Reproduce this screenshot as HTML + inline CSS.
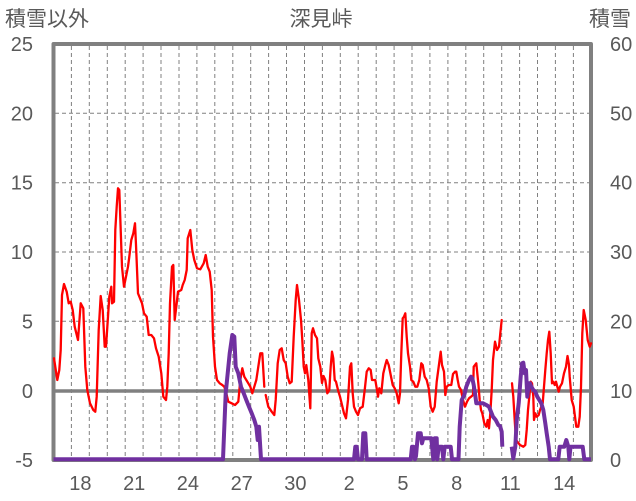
<!DOCTYPE html>
<html><head><meta charset="utf-8"><style>
html,body{margin:0;padding:0;background:#fff;}
svg{display:block;}
text{font-family:"Liberation Sans","Noto Sans CJK JP",sans-serif;fill:#595959;}
</style></head><body>
<svg width="636" height="501" viewBox="0 0 636 501" xmlns="http://www.w3.org/2000/svg">
<rect width="636" height="501" fill="#fff"/>
<g stroke="#808080" stroke-width="1" stroke-dasharray="4,3" fill="none">
<line x1="71.4" y1="46" x2="71.4" y2="458"/><line x1="89.3" y1="46" x2="89.3" y2="458"/><line x1="107.3" y1="46" x2="107.3" y2="458"/><line x1="125.2" y1="46" x2="125.2" y2="458"/><line x1="143.1" y1="46" x2="143.1" y2="458"/><line x1="161.0" y1="46" x2="161.0" y2="458"/><line x1="179.0" y1="46" x2="179.0" y2="458"/><line x1="196.9" y1="46" x2="196.9" y2="458"/><line x1="214.8" y1="46" x2="214.8" y2="458"/><line x1="232.8" y1="46" x2="232.8" y2="458"/><line x1="250.7" y1="46" x2="250.7" y2="458"/><line x1="268.6" y1="46" x2="268.6" y2="458"/><line x1="286.5" y1="46" x2="286.5" y2="458"/><line x1="304.5" y1="46" x2="304.5" y2="458"/><line x1="322.4" y1="46" x2="322.4" y2="458"/><line x1="340.3" y1="46" x2="340.3" y2="458"/><line x1="358.2" y1="46" x2="358.2" y2="458"/><line x1="376.2" y1="46" x2="376.2" y2="458"/><line x1="394.1" y1="46" x2="394.1" y2="458"/><line x1="412.0" y1="46" x2="412.0" y2="458"/><line x1="429.9" y1="46" x2="429.9" y2="458"/><line x1="447.9" y1="46" x2="447.9" y2="458"/><line x1="465.8" y1="46" x2="465.8" y2="458"/><line x1="483.7" y1="46" x2="483.7" y2="458"/><line x1="501.7" y1="46" x2="501.7" y2="458"/><line x1="519.6" y1="46" x2="519.6" y2="458"/><line x1="537.5" y1="46" x2="537.5" y2="458"/><line x1="555.4" y1="46" x2="555.4" y2="458"/><line x1="573.4" y1="46" x2="573.4" y2="458"/>
<line x1="55" y1="113.3" x2="590" y2="113.3"/><line x1="55" y1="182.7" x2="590" y2="182.7"/><line x1="55" y1="252" x2="590" y2="252"/><line x1="55" y1="321.3" x2="590" y2="321.3"/>
</g>
<rect x="53.5" y="44" width="537.5" height="416" fill="none" stroke="#808080" stroke-width="4" stroke-linejoin="round"/>
<line x1="53.5" y1="391" x2="591" y2="391" stroke="#808080" stroke-width="3.5"/>
<g fill="none" stroke="#ff0000" stroke-width="2.3" stroke-linejoin="round" stroke-linecap="round">
<polyline points="54,358.3 57.3,380 59.3,370 60.7,350 62,295 64,284 66.7,291.7 68.7,303.3 70.7,301.7 72.7,310 74.7,326.7 78,340 80.7,303.3 83.3,308.3 85.3,366.7 87.3,390 90,403.3 93.3,410 95.3,411.7 96.7,396.7 98.7,330 100.7,296 102.7,310 104.7,346.7 106,346.7 108,316.7 109.3,296.7 111.3,286.7 112,303.3 114,301.7 115.3,230 116.7,206.7 118,188.3 119.3,190 120.7,230 122,266.7 124,286.7 126,276.7 128,266.7 129.3,256.7 131.3,240 133.3,233.3 135,223.3 136,245 138,293.3 140,298.3 142,303.3 144,313.3 146.7,316.7 148.7,335 151.3,335 154,338.3 156,348.3 158.7,356.7 161.3,373.3 163.3,396.7 166,400 167.3,386.7 168.7,353.3 170,303.3 172,266.7 173.3,265 174.7,320 176.7,303.3 178,291.7 181.3,290 182.7,285 184.7,280 186.7,270 187.7,238.3 190.3,230 192.3,250 194.3,260 197,268.3 200.3,269.3 203.7,263.3 205.7,255 207.7,266.7 209.7,271.7 211.7,290 213,336.7 215,366.7 217,380 219.7,383.3 222.3,385 224.3,386.7 226.3,393.3 228.3,401.7 231.7,403.3 235,405 238.3,401.7 240.3,380 242.3,368.3 244.3,376.7 246.3,380 248.3,383.3 250.3,386.7 252.3,393.3 254.3,386.7 256.3,380 258.3,366.7 260.3,353.3 262.3,353.3 264.3,386.7"/>
<polyline points="265.7,395 268.3,406.7 271.7,411.7 274.3,415 275.7,400 277.7,363.3 279.7,350 281.7,348.3 283.7,360 285.7,363.3 287.7,376.7 289.7,383.3 291.7,381.7 293.7,336.7 295.7,300 297,285 299,300 301,320 302.3,340 303.7,366.7 305,373.3 306.3,365 308.3,380 310.3,408.3 311.7,333.3 313,328.3 315,335 317,338.3 318.3,358.3 320.3,366.7 322,383 323.5,376 325.3,380 327.3,393.3 329.3,390 330.7,366.7 332,351.7 333.3,358.3 334.7,380 336,381.7 338,390 340,396.7 342,405 344,413.3 346,418.3 348,400 350,366.7 351.3,363.3 352.7,393.3 354,406.7 356,411.7 358,415 360,408.3 362.7,406.7 364.7,390 366.7,371.7 368.7,368.3 370.7,370 372,380 375.3,380 376.7,388.3 378,396.7 379.3,388.3 381.3,393.3 383.3,373.3 385.3,365 386.7,360 388.7,365 390.7,375 392.7,385 394.7,388.3 396.7,393.3 398.7,403.3 400,393.3 401.3,353.3 402.7,318.3 404,316.7 405.3,313.3 406.7,336.7 408,353.3 410,366.7 411.3,380 413.3,381.7 415.3,386.7 417.3,386.7 419.3,380 421.3,363.3 422.7,365 424.7,376.7 426.7,380 428.7,388.3 430.7,406.7 432.7,411.7 434.7,406.7 436.7,381.7 438.7,366.7 440.7,351.7 442,365 444,371.7 445.3,395 446.7,386.7 448.7,385 451.3,385 453,374 455,371.7 456.3,371.7 457.7,380 459,386.7 461,390 463,400 465,406.7 467,401.7 469,398.3 471,396.7 473,395 473.7,366.7 476.3,363.3 478.3,383.3 479.7,400 481,410 482.3,413.3 484.3,423.3 486.3,426.7 487.7,420 489,428.3 490.3,413.3 491.7,390 493,360 495,341.7 497,350 499,346.7 500.3,333.3 501.7,320"/>
<polyline points="512,383.3 513.3,396.7 514.7,420 516,440 518.7,443.3 520,445 523.3,446.7 525.3,445 526.7,430 528,410 529.3,396.7 530.7,381.7 532,383.3 533.3,396.7 534,420 535.3,413.3 536.7,416.7 538.7,415 540,410 541.3,406.7 542.7,403.3 544,386.7 545.3,370 546.7,353.3 548,340 549.3,331.7 550.7,353.3 552,383.3 553.3,381.7 554.7,385 556,381.7 557.3,386.7 558.7,391.7 560,386.7 562,383.3 564,373.3 566,366.7 567.5,356 569,365 569.7,376.7 571.7,400 573.7,406.7 575,416.7 576.3,426.7 578.3,426.7 579.7,416.7 581,386.7 582.3,333.3 583.7,310 585.7,320 587.7,340 589.7,346.7 591,343.3"/>
</g>
<g fill="none" stroke="#7030a0" stroke-width="4" stroke-linejoin="round">
<polyline points="53.5,459.3 223,459.3 225.7,393.3 229.7,353.3 232.3,335 234.3,336.7 235.7,366.7 238.3,373.3 241,386.7 243.7,393.3 246.3,400 249,406.7 251.7,413.3 254.3,420 256.3,426.7 257.7,440 259,426.7 261,459.3 354,459.3 355.3,446.7 356.7,446.7 358,459.3 362,459.3 363.3,433.3 365.3,433.3 366.7,459.3 410.7,459.3 412,446.7 413.5,446.7 415,459.3 416,456 418,433.3 420.7,433.3 422,443.3 423.3,438.3 431.3,438.3 433.3,459.3 434.7,438.3 436.7,438.3 437.3,459.3 438.7,446.7 442,446.7 443.3,459.3 444.7,446.7 450.7,446.7 452,459.3 458.5,459.3 459.7,426.7 461.7,400 464.3,395 466.3,386.7 469,380 471,376.7 472.3,378.3 473.7,385 475,393.3 476.3,403.3 483,403.3 486.3,405 489,406.7 491,411.7 493,416.7 495.7,420 498.3,425 500,426 501.7,431.7 502.3,446.7"/>
<polyline points="511.7,446.7 513.3,458.3 515.3,446.7 516.7,420 518.7,403.3 520.7,376.7 522,363.3 523.3,362.7 524.7,373.3 526,370 527.3,396.7 528.7,383.3 530,383.3 531.3,386.7 533.3,390 535.3,391.7 537.3,396.7 539.3,400 541.3,403.3 543.3,410 545.3,423.3 546.7,433.3 548.7,446.7 550,459.3 558.3,459.3 559.7,446.7 564.3,446.7 566.3,440 568.3,446.7 569.3,459.3 570.5,446.7 582.7,446.7 584.3,459.3 591,459.3"/>
</g>
<g font-size="20" text-anchor="end">
<text x="33" y="51">25</text><text x="33" y="120.3">20</text><text x="33" y="189.7">15</text><text x="33" y="259">10</text><text x="33" y="328.3">5</text><text x="33" y="398">0</text><text x="33" y="467">-5</text>
</g>
<g font-size="20" text-anchor="start">
<text x="610" y="51">60</text><text x="610" y="120.3">50</text><text x="610" y="189.7">40</text><text x="610" y="259">30</text><text x="610" y="328.3">20</text><text x="610" y="398">10</text><text x="610" y="467">0</text>
</g>
<g font-size="20" text-anchor="middle">
<text x="80.4" y="490">18</text><text x="134.2" y="490">21</text><text x="187.9" y="490">24</text><text x="241.7" y="490">27</text><text x="295.4" y="490">30</text><text x="349.2" y="490">2</text><text x="402.9" y="490">5</text><text x="456.7" y="490">8</text><text x="510.4" y="490">11</text><text x="564.2" y="490">14</text>
</g>
<text x="5" y="26" font-size="21">積雪以外</text>
<text x="321" y="26" font-size="21" text-anchor="middle">深見峠</text>
<text x="631" y="26" font-size="21" text-anchor="end">積雪</text>
</svg>
</body></html>
